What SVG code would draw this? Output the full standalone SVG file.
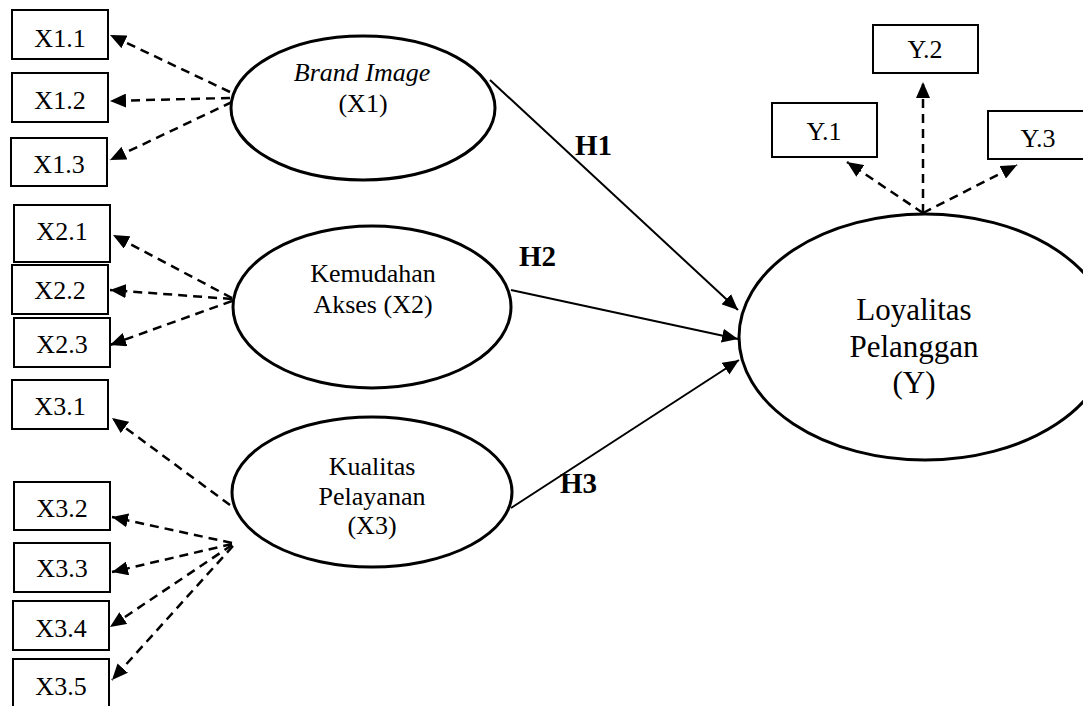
<svg xmlns="http://www.w3.org/2000/svg" width="1083" height="706" viewBox="0 0 1083 706" font-family="'Liberation Serif', 'Times New Roman', Times, 'DejaVu Serif', serif">
<style>
.box{fill:#fff;stroke:#000;stroke-width:2}
.ell{fill:#fff;stroke:#000;stroke-width:3}
text{font-family:'Liberation Serif','Times New Roman',Times,'DejaVu Serif',serif;fill:#000}
.t{font-size:26px;text-anchor:middle}
.ty{font-size:31px;text-anchor:middle}
.h{font-size:29px;font-weight:bold}
.solid{stroke:#000;stroke-width:2;fill:none;marker-end:url(#ah)}
.dash{stroke:#000;stroke-width:2.5;fill:none;stroke-dasharray:9,6;marker-end:url(#ah)}
</style>
<defs>
<marker id="ah" markerUnits="userSpaceOnUse" markerWidth="18" markerHeight="14" refX="16" refY="7" orient="auto">
<path d="M0,0 L16,7 L0,14 z" fill="#000"/>
</marker>
</defs>
<rect width="1083" height="706" fill="#fff"/>
<g id="connectors">
<line class="solid" x1="490" y1="80" x2="738" y2="310"/>
<line class="solid" x1="511" y1="290" x2="738" y2="339"/>
<line class="solid" x1="511" y1="508" x2="739" y2="360"/>
<line class="dash" x1="230" y1="92" x2="110" y2="35"/>
<line class="dash" x1="230" y1="98" x2="110" y2="101"/>
<line class="dash" x1="232" y1="102" x2="110" y2="160"/>
<line class="dash" x1="232" y1="298" x2="113" y2="235"/>
<line class="dash" x1="232" y1="299" x2="110" y2="290"/>
<line class="dash" x1="232" y1="301" x2="110" y2="345"/>
<line class="dash" x1="230" y1="505" x2="112" y2="418"/>
<line class="dash" x1="232" y1="543" x2="112" y2="517"/>
<line class="dash" x1="232" y1="544" x2="112" y2="572"/>
<line class="dash" x1="232" y1="545" x2="110" y2="627"/>
<line class="dash" x1="233" y1="546" x2="112" y2="680"/>
<line class="dash" x1="923" y1="213" x2="923" y2="82"/>
<line class="dash" x1="923" y1="213" x2="847" y2="162"/>
<line class="dash" x1="923" y1="213" x2="1017" y2="165"/>
</g>
<g id="X1"><ellipse class="ell" cx="363" cy="108" rx="132" ry="72"/><text class="t" x="362" y="81" font-style="italic">Brand Image</text><text class="t" x="363" y="112">(X1)</text></g>
<g id="X2"><ellipse class="ell" cx="372" cy="307" rx="139" ry="81"/><text class="t" x="373" y="282">Kemudahan</text><text class="t" x="373" y="313">Akses (X2)</text></g>
<g id="X3"><ellipse class="ell" cx="372" cy="492" rx="140" ry="75"/><text class="t" x="372" y="475">Kualitas</text><text class="t" x="372" y="505">Pelayanan</text><text class="t" x="372" y="534">(X3)</text></g>
<g id="Y"><ellipse class="ell" cx="925" cy="337" rx="186" ry="123"/><text class="ty" x="914" y="320">Loyalitas</text><text class="ty" x="914" y="357">Pelanggan</text><text class="ty" x="914" y="393">(Y)</text></g>
<g id="X1.1"><rect class="box" x="12" y="10" width="96" height="49"/><text class="t" x="60" y="47">X1.1</text></g>
<g id="X1.2"><rect class="box" x="12" y="73" width="96" height="49"/><text class="t" x="60" y="109">X1.2</text></g>
<g id="X1.3"><rect class="box" x="11" y="138" width="96" height="48"/><text class="t" x="59" y="173">X1.3</text></g>
<g id="X2.1"><rect class="box" x="14" y="205" width="96" height="57"/><text class="t" x="62" y="240">X2.1</text></g>
<g id="X2.2"><rect class="box" x="12" y="265" width="96" height="49"/><text class="t" x="60" y="299">X2.2</text></g>
<g id="X2.3"><rect class="box" x="14" y="318" width="96" height="49"/><text class="t" x="62" y="353">X2.3</text></g>
<g id="X3.1"><rect class="box" x="12" y="380" width="96" height="49"/><text class="t" x="60" y="415">X3.1</text></g>
<g id="X3.2"><rect class="box" x="14" y="482" width="96" height="48"/><text class="t" x="62" y="517">X3.2</text></g>
<g id="X3.3"><rect class="box" x="14" y="543" width="96" height="49"/><text class="t" x="62" y="577">X3.3</text></g>
<g id="X3.4"><rect class="box" x="13" y="601" width="96" height="49"/><text class="t" x="61" y="637">X3.4</text></g>
<g id="X3.5"><rect class="box" x="13" y="659" width="96" height="60"/><text class="t" x="61" y="695">X3.5</text></g>
<g id="Y.1"><rect class="box" x="772" y="103" width="105" height="54"/><text class="t" x="824" y="140">Y.1</text></g>
<g id="Y.2"><rect class="box" x="873" y="25" width="105" height="48"/><text class="t" x="925" y="58">Y.2</text></g>
<g id="Y.3"><rect class="box" x="988" y="111" width="110" height="48"/><text class="t" x="1038" y="147">Y.3</text></g>
<g id="labels"><text class="h" x="575" y="155">H1</text><text class="h" x="519" y="266">H2</text><text class="h" x="560" y="493">H3</text></g>
</svg>
